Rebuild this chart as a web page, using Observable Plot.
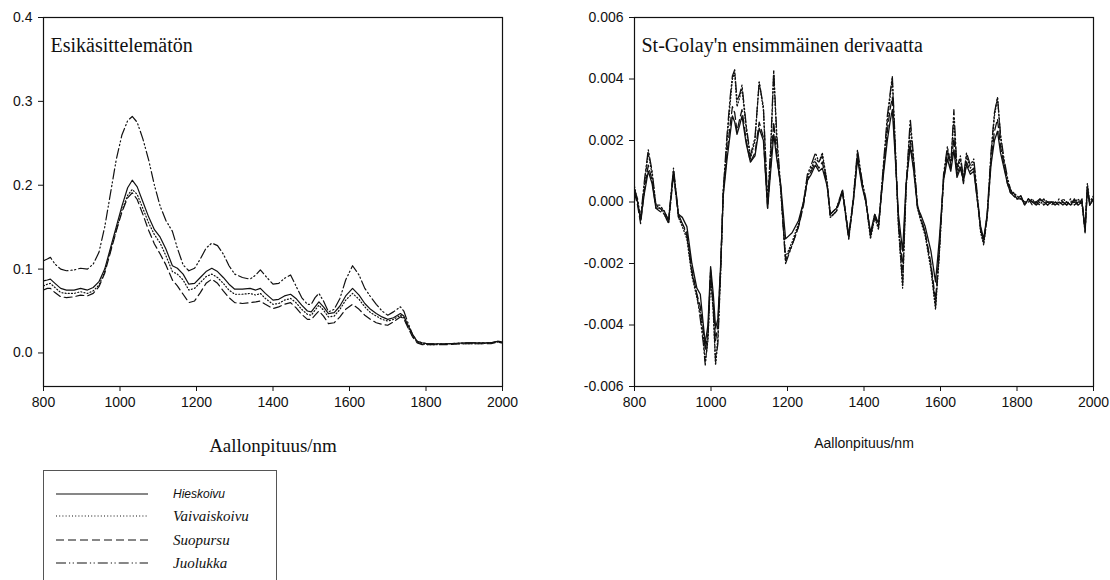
<!DOCTYPE html>
<html>
<head>
<meta charset="utf-8">
<script src="https://cdn.jsdelivr.net/npm/d3@7"></script>
<script src="https://cdn.jsdelivr.net/npm/@observablehq/plot@0.6"></script>
<style>
  html, body { margin: 0; padding: 0; background: #fff; }
  #wrap { position: relative; width: 1110px; height: 580px; overflow: hidden; background: #fff; }
  #left, #right { position: absolute; top: 0; }
  #left { left: 0; }
  #right { left: 555px; }
  svg.plot-svg { max-width: none !important; background: transparent; }
  #legend { position: absolute; left: 43px; top: 470px; width: 234px; height: 130px; border: 1px solid #555; box-sizing: border-box; }
</style>
</head>
<body>
<div id="wrap">
  <div id="left"></div>
  <div id="right"></div>
  <div id="legend"></div>
</div>
<script>
// ---------------- DATA ----------------
const SERIES = ["Hieskoivu", "Vaivaiskoivu", "Suopursu", "Juolukka"];
const X_TICKS = [800, 1000, 1200, 1400, 1600, 1800, 2000];
const L_YTICKS = [0, 0.1, 0.2, 0.3, 0.4];
const R_YTICKS = [-0.006, -0.004, -0.002, 0, 0.002, 0.004, 0.006];
const L_TITLE = "Esikäsittelemätön";
const R_TITLE = "St-Golay'n ensimmäinen derivaatta";
const X_LABEL = "Aallonpituus/nm";

// Left panel: raw spectra
const L_WL = [800,810,818,830,845,860,880,897,915,930,
  945,960,975,990,1005,1020,1032,1045,1060,1075,
  1090,1105,1120,1137,1150,1165,1180,1195,1210,1225,
  1240,1255,1270,1285,1300,1320,1340,1355,1367,1380,
  1400,1415,1430,1446,1460,1475,1490,1500,1510,1520,
  1532,1545,1560,1575,1590,1608,1625,1640,1655,1670,
  1685,1700,1715,1733,1742,1752,1765,1777,1790,1804,
  1830,1860,1900,1940,1970,1987,2000];
const L_HIESKOIVU = [0.086,0.087,0.088,0.083,0.077,0.075,0.075,0.077,0.075,0.078,
  0.085,0.100,0.125,0.150,0.175,0.197,0.206,0.198,0.180,0.162,
  0.147,0.138,0.124,0.104,0.101,0.094,0.082,0.083,0.090,0.097,
  0.101,0.097,0.090,0.082,0.076,0.076,0.077,0.075,0.077,0.071,
  0.063,0.064,0.068,0.070,0.065,0.057,0.050,0.049,0.055,0.061,
  0.055,0.047,0.048,0.056,0.068,0.077,0.069,0.059,0.052,0.047,
  0.043,0.040,0.042,0.047,0.044,0.034,0.022,0.014,0.012,0.011,
  0.011,0.011,0.012,0.012,0.012,0.014,0.013];
const L_VAIVAISKOIVU = [0.080,0.082,0.083,0.078,0.072,0.071,0.071,0.073,0.071,0.074,
  0.081,0.097,0.122,0.146,0.170,0.188,0.195,0.189,0.172,0.155,
  0.141,0.131,0.116,0.097,0.094,0.087,0.075,0.077,0.084,0.091,
  0.094,0.090,0.083,0.075,0.070,0.070,0.071,0.069,0.071,0.065,
  0.058,0.059,0.063,0.065,0.060,0.052,0.046,0.045,0.051,0.057,
  0.051,0.043,0.044,0.052,0.063,0.071,0.064,0.055,0.048,0.044,
  0.040,0.038,0.040,0.045,0.042,0.032,0.020,0.013,0.011,0.010,
  0.010,0.011,0.011,0.011,0.012,0.013,0.012];
const L_SUOPURSU = [0.075,0.077,0.077,0.072,0.067,0.066,0.067,0.069,0.068,0.071,
  0.079,0.095,0.120,0.145,0.168,0.185,0.191,0.183,0.165,0.146,
  0.130,0.118,0.105,0.087,0.080,0.070,0.060,0.062,0.072,0.083,
  0.088,0.083,0.074,0.066,0.060,0.059,0.060,0.061,0.062,0.058,
  0.053,0.055,0.058,0.060,0.054,0.046,0.040,0.040,0.045,0.050,
  0.044,0.035,0.036,0.043,0.052,0.058,0.052,0.045,0.040,0.036,
  0.034,0.033,0.037,0.043,0.041,0.031,0.019,0.012,0.010,0.010,
  0.010,0.010,0.011,0.011,0.011,0.013,0.012];
const L_JUOLUKKA = [0.110,0.112,0.114,0.106,0.100,0.098,0.099,0.101,0.100,0.106,
  0.120,0.150,0.190,0.230,0.260,0.277,0.282,0.275,0.255,0.230,
  0.200,0.175,0.158,0.145,0.125,0.105,0.098,0.101,0.112,0.125,
  0.131,0.128,0.118,0.104,0.094,0.090,0.088,0.093,0.099,0.092,
  0.082,0.083,0.089,0.093,0.080,0.066,0.058,0.058,0.066,0.071,
  0.062,0.049,0.052,0.065,0.087,0.104,0.093,0.077,0.067,0.058,
  0.050,0.045,0.049,0.055,0.050,0.037,0.022,0.014,0.012,0.011,
  0.011,0.011,0.012,0.012,0.012,0.014,0.013];

// Right panel: Savitzky-Golay first derivative
const R_WL = [800,808,816,826,836,846,856,866,878,889,
  902,915,925,937,950,963,972,980,985,992,
  999,1006,1012,1018,1025,1032,1042,1050,1056,1062,
  1068,1075,1081,1092,1103,1115,1126,1137,1148,1156,
  1164,1172,1182,1195,1212,1229,1242,1252,1262,1273,
  1282,1291,1304,1312,1328,1344,1360,1372,1383,1395,
  1405,1417,1428,1438,1450,1461,1468,1474,1481,1490,
  1501,1510,1521,1530,1540,1548,1560,1575,1587,1597,
  1608,1618,1627,1635,1643,1652,1660,1668,1678,1687,
  1695,1705,1713,1722,1732,1741,1749,1757,1766,1775,
  1783,1791,1800,1810,1820,1830,1840,1850,1860,1870,
  1880,1890,1900,1910,1920,1930,1940,1950,1960,1970,
  1978,1984,1990,2000];
const R_HIESKOIVU = [0.0004,0.0000,-0.0006,0.0003,0.0010,0.0006,-0.0002,-0.0002,-0.0003,-0.0006,
  0.0010,-0.0004,-0.0005,-0.0008,-0.0020,-0.0028,-0.0030,-0.0040,-0.0046,-0.0040,
  -0.0021,-0.0030,-0.0041,-0.0038,-0.0021,0.0002,0.0014,0.0022,0.0028,0.0026,
  0.0022,0.0025,0.0028,0.0019,0.0013,0.0015,0.0024,0.0020,-0.0002,0.0010,
  0.0022,0.0014,0.0006,-0.0012,-0.0010,-0.0006,0.0000,0.0007,0.0009,0.0012,
  0.0010,0.0011,0.0005,-0.0004,-0.0002,0.0003,-0.0011,0.0000,0.0014,0.0005,
  0.0000,-0.0010,-0.0004,-0.0007,0.0008,0.0020,0.0026,0.0030,0.0016,-0.0004,
  -0.0016,0.0006,0.0018,0.0010,-0.0002,-0.0004,-0.0008,-0.0016,-0.0026,-0.0012,
  0.0007,0.0014,0.0010,0.0017,0.0008,0.0011,0.0007,0.0012,0.0009,0.0010,
  0.0002,-0.0008,-0.0012,-0.0004,0.0012,0.0020,0.0023,0.0016,0.0011,0.0006,
  0.0003,0.0003,0.0001,0.0002,-0.0001,0.0001,0.0000,-0.0001,0.0001,0.0000,
  -0.0001,0.0000,-0.0001,0.0000,-0.0001,0.0000,-0.0001,0.0001,-0.0001,0.0000,
  -0.0009,0.0005,-0.0001,0.0001];
const R_VAIVAISKOIVU = [0.0005,0.0000,-0.0006,0.0006,0.0016,0.0009,-0.0001,-0.0002,-0.0004,-0.0007,
  0.0010,-0.0005,-0.0008,-0.0012,-0.0024,-0.0031,-0.0036,-0.0044,-0.0052,-0.0045,
  -0.0024,-0.0036,-0.0053,-0.0044,-0.0024,0.0003,0.0020,0.0032,0.0040,0.0042,
  0.0031,0.0034,0.0037,0.0024,0.0014,0.0020,0.0039,0.0030,-0.0001,0.0016,
  0.0042,0.0020,0.0004,-0.0018,-0.0013,-0.0007,0.0000,0.0008,0.0011,0.0014,
  0.0013,0.0016,0.0006,-0.0005,-0.0003,0.0004,-0.0012,0.0001,0.0016,0.0006,
  0.0000,-0.0012,-0.0005,-0.0009,0.0010,0.0026,0.0034,0.0040,0.0020,-0.0008,
  -0.0028,0.0004,0.0025,0.0013,-0.0002,-0.0006,-0.0011,-0.0022,-0.0035,-0.0017,
  0.0008,0.0017,0.0013,0.0027,0.0010,0.0014,0.0007,0.0015,0.0011,0.0013,
  0.0003,-0.0010,-0.0014,-0.0005,0.0015,0.0028,0.0034,0.0021,0.0013,0.0007,
  0.0004,0.0003,0.0002,0.0001,0.0000,0.0000,0.0001,-0.0001,0.0000,0.0001,
  -0.0001,0.0000,0.0000,-0.0001,0.0001,0.0000,-0.0001,0.0000,0.0001,-0.0001,
  -0.0008,0.0006,0.0000,0.0002];
const R_SUOPURSU = [0.0003,-0.0001,-0.0007,0.0004,0.0012,0.0007,-0.0002,-0.0003,-0.0004,-0.0007,
  0.0009,-0.0005,-0.0007,-0.0010,-0.0022,-0.0030,-0.0034,-0.0042,-0.0048,-0.0043,
  -0.0023,-0.0033,-0.0045,-0.0040,-0.0022,0.0003,0.0016,0.0025,0.0031,0.0029,
  0.0023,0.0027,0.0030,0.0020,0.0013,0.0016,0.0026,0.0021,-0.0002,0.0012,
  0.0026,0.0015,0.0005,-0.0019,-0.0014,-0.0008,-0.0001,0.0007,0.0010,0.0013,
  0.0011,0.0013,0.0005,-0.0005,-0.0003,0.0003,-0.0012,0.0000,0.0015,0.0006,
  0.0000,-0.0011,-0.0005,-0.0008,0.0009,0.0023,0.0030,0.0034,0.0018,-0.0006,
  -0.0022,0.0005,0.0020,0.0011,-0.0002,-0.0005,-0.0010,-0.0020,-0.0032,-0.0015,
  0.0007,0.0016,0.0011,0.0021,0.0009,0.0012,0.0006,0.0013,0.0010,0.0011,
  0.0002,-0.0009,-0.0013,-0.0005,0.0013,0.0023,0.0027,0.0018,0.0012,0.0006,
  0.0003,0.0002,0.0001,0.0001,0.0000,0.0001,-0.0001,0.0000,0.0001,-0.0001,
  0.0000,-0.0001,0.0000,-0.0001,0.0000,-0.0001,0.0000,0.0000,-0.0001,0.0001,
  -0.0010,0.0004,0.0000,0.0001];
const R_JUOLUKKA = [0.0004,0.0001,-0.0005,0.0007,0.0017,0.0010,-0.0001,-0.0001,-0.0003,-0.0006,
  0.0011,-0.0004,-0.0007,-0.0011,-0.0023,-0.0030,-0.0038,-0.0046,-0.0053,-0.0044,
  -0.0022,-0.0035,-0.0052,-0.0046,-0.0023,0.0004,0.0022,0.0034,0.0041,0.0043,
  0.0033,0.0035,0.0038,0.0025,0.0015,0.0021,0.0039,0.0031,0.0000,0.0018,
  0.0043,0.0022,0.0005,-0.0020,-0.0014,-0.0008,0.0000,0.0009,0.0012,0.0016,
  0.0013,0.0015,0.0006,-0.0004,-0.0002,0.0004,-0.0011,0.0001,0.0017,0.0007,
  0.0001,-0.0011,-0.0004,-0.0008,0.0011,0.0028,0.0035,0.0041,0.0021,-0.0007,
  -0.0027,0.0005,0.0027,0.0014,-0.0001,-0.0005,-0.0010,-0.0021,-0.0034,-0.0016,
  0.0009,0.0018,0.0012,0.0030,0.0011,0.0015,0.0008,0.0016,0.0012,0.0014,
  0.0004,-0.0009,-0.0013,-0.0004,0.0016,0.0029,0.0034,0.0022,0.0014,0.0008,
  0.0004,0.0002,0.0001,0.0002,-0.0001,0.0001,0.0000,0.0000,-0.0001,0.0001,
  0.0000,0.0000,-0.0001,0.0001,0.0000,-0.0001,0.0001,-0.0001,0.0000,0.0000,
  -0.0010,0.0005,-0.0001,0.0001];

// ---------------- STYLE ----------------
const DASH = {
  "Hieskoivu": null,
  "Vaivaiskoivu": "1,2.2",
  "Suopursu": "8,4",
  "Juolukka": "10,3,1.2,2.5,1.2,3"
};
const SANS = "'Liberation Sans', Arial, sans-serif";
const SERIF = "'Liberation Serif', 'Times New Roman', serif";

function rows(wl, vals, s) {
  const n = Math.min(wl.length, vals.length);
  const out = [];
  for (let i = 0; i < n; i++) out.push({wl: wl[i], v: vals[i], s});
  return out;
}

const leftSeries = {
  "Hieskoivu": rows(L_WL, L_HIESKOIVU, "Hieskoivu"),
  "Vaivaiskoivu": rows(L_WL, L_VAIVAISKOIVU, "Vaivaiskoivu"),
  "Suopursu": rows(L_WL, L_SUOPURSU, "Suopursu"),
  "Juolukka": rows(L_WL, L_JUOLUKKA, "Juolukka")
};
const rightSeries = {
  "Hieskoivu": rows(R_WL, R_HIESKOIVU, "Hieskoivu"),
  "Vaivaiskoivu": rows(R_WL, R_VAIVAISKOIVU, "Vaivaiskoivu"),
  "Suopursu": rows(R_WL, R_SUOPURSU, "Suopursu"),
  "Juolukka": rows(R_WL, R_JUOLUKKA, "Juolukka")
};

function lineMarks(data, width) {
  return SERIES.map(s => Plot.line(data[s], {
    x: "wl", y: "v", stroke: "#111", strokeWidth: width,
    strokeDasharray: DASH[s] || undefined, clip: true, curve: "linear"
  }));
}

function panel({width, marginLeft, marginRight, yDomain, yTicks, yFmt, data, title, labelFont, labelSize, labelDy, lw}) {
  return Plot.plot({
    width, height: 470,
    marginLeft, marginRight, marginTop: 17, marginBottom: 84,
    style: {fontFamily: SANS, fontSize: "14px", color: "#111", background: "transparent"},
    x: {domain: [800, 2000]},
    y: {domain: yDomain},
    marks: [
      ...lineMarks(data, lw),
      Plot.frame({stroke: "#111", strokeWidth: 1.2}),
      Plot.axisX({ticks: X_TICKS, tickSize: 5, tickPadding: 6, label: null, fontSize: 14, tickFormat: d => String(d)}),
      Plot.axisY({ticks: yTicks, tickSize: 5, tickPadding: 6, label: null, fontSize: 14, tickFormat: yFmt}),
      Plot.text([title], {frameAnchor: "top-left", dx: 7, dy: 28, lineAnchor: "middle", textAnchor: "start",
        fontFamily: SERIF, fontSize: 20, fill: "#111"}),
      Plot.text([X_LABEL], {frameAnchor: "bottom", dy: labelDy, lineAnchor: "middle",
        fontFamily: labelFont, fontSize: labelSize, fill: "#111"})
    ]
  });
}

const left = panel({
  width: 540, marginLeft: 43, marginRight: 38,
  yDomain: [-0.04, 0.4], yTicks: L_YTICKS, yFmt: d => d.toFixed(1),
  data: leftSeries, title: L_TITLE, labelFont: SERIF, labelSize: 19, labelDy: 59, lw: 1.2
});
const right = panel({
  width: 555, marginLeft: 79, marginRight: 17,
  yDomain: [-0.006, 0.006], yTicks: R_YTICKS, yFmt: d => d.toFixed(3),
  data: rightSeries, title: R_TITLE, labelFont: SANS, labelSize: 14, labelDy: 57, lw: 1.3
});
left.classList.add("plot-svg");
right.classList.add("plot-svg");
document.getElementById("left").appendChild(left);
document.getElementById("right").appendChild(right);

// ---------------- LEGEND ----------------
const legendFont = {
  "Hieskoivu": {family: SANS, size: 12},
  "Vaivaiskoivu": {family: SERIF, size: 15},
  "Suopursu": {family: SERIF, size: 15},
  "Juolukka": {family: SERIF, size: 15}
};
const rowY = [23, 45, 69, 92];
const lsvg = d3.select("#legend").append("svg").attr("width", 232).attr("height", 128);
SERIES.forEach((s, i) => {
  lsvg.append("line").attr("x1", 12).attr("x2", 104).attr("y1", rowY[i]).attr("y2", rowY[i])
    .attr("stroke", "#111").attr("stroke-width", 1.1)
    .attr("stroke-dasharray", DASH[s] || null);
  lsvg.append("text").attr("x", 129).attr("y", rowY[i]).attr("dy", "0.35em")
    .attr("font-family", legendFont[s].family).attr("font-size", legendFont[s].size)
    .attr("font-style", "italic").attr("fill", "#111").text(s);
});
</script>
</body>
</html>
